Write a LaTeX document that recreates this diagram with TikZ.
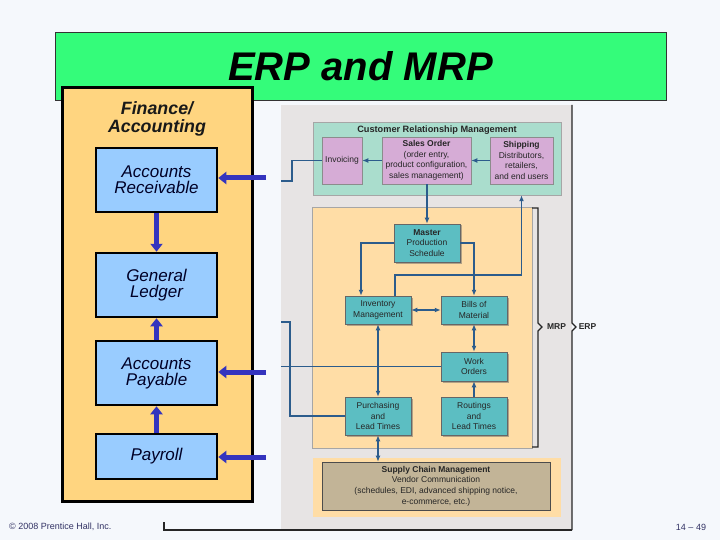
\documentclass[tikz,border=0pt]{standalone}
\usepackage{fontspec}
\setmainfont{Liberation Sans}
\usetikzlibrary{arrows.meta, positioning, calc, shadows}
\definecolor{erpfundo}{RGB}{245,248,252}
\definecolor{erpverde}{RGB}{52,252,122}
\definecolor{erplaranja}{RGB}{255,213,128}
\definecolor{erpazul}{RGB}{153,204,255}
\definecolor{erproxo}{RGB}{52,52,190}
\definecolor{erpcinza}{RGB}{231,228,228}
\definecolor{erpverdeag}{RGB}{170,221,205}
\definecolor{erplilas}{RGB}{214,172,214}
\definecolor{erpareia}{RGB}{255,221,166}
\definecolor{erpteal}{RGB}{92,190,194}
\definecolor{erplinha}{RGB}{44,92,140}
\definecolor{erptan}{RGB}{194,180,151}
\definecolor{erprod}{RGB}{50,50,100}
\tikzset{
  erptit/.style = {draw=black!80, fill=erpverde, line width=0.8pt,
    minimum width=611pt, minimum height=68pt, inner sep=0pt,
    font=\fontsize{40}{44}\selectfont\bfseries\itshape},
  erpfin/.style = {draw=black, fill=erplaranja, line width=3pt,
    minimum width=190pt, minimum height=413pt, inner sep=0pt},
  erpfinrot/.style = {align=center, text=black!90,
    font=\fontsize{17.8}{18}\selectfont\bfseries\itshape},
  erpbox/.style = {draw=black, fill=erpazul, line width=2.5pt,
    minimum width=121pt, minimum height=64pt, inner sep=0pt, align=center,
    text=black!85!blue, font=\fontsize{17}{16}\selectfont\itshape},
  erpseta/.style = {-{Triangle[length=8pt,width=12pt]}, line width=5pt,
    draw=erproxo},
  erpfig/.style = {fill=erpcinza, minimum width=291pt, minimum height=425pt,
    inner sep=0pt},
  erpplano/.style = {inner sep=0pt, draw=black!35, line width=0.5pt},
  erpcrm/.style = {draw=black!45, fill=erplilas, line width=0.5pt,
    minimum height=47pt, inner sep=1pt, align=center,
    drop shadow={shadow xshift=1pt, shadow yshift=-1pt, fill=black!35}},
  erpmod/.style = {draw=black!60, fill=erpteal, line width=0.5pt,
    minimum width=66pt, inner sep=1pt, align=center,
    drop shadow={shadow xshift=1.5pt, shadow yshift=-1.5pt, fill=black!60}},
  erplig/.style = {draw=erplinha, line width=1.6pt},
  erpfl/.style = {erplig, -{Latex[length=6pt,width=5pt]}},
  erpfl2/.style = {erplig, {Latex[length=6pt,width=5pt]}-{Latex[length=6pt,width=5pt]}},
  erprot/.style = {align=center, inner sep=0pt, text=black!85,
    font=\fontsize{8.5}{10.6}\selectfont},
  erpchave/.style = {draw=black!85, line width=1.4pt},
  erprodape/.style = {text=erprod, inner sep=0pt,
    font=\fontsize{9}{10}\selectfont}
}

\begin{document}
\begin{tikzpicture}[x=1pt, y=-1pt, every node/.append style={erprot}]
  \path [use as bounding box, fill=erpfundo] (0,0) rectangle (720,540);
  \node [erptit, text=black, font=\fontsize{40}{44}\selectfont\bfseries\itshape] (tit) at (360.5,66) {ERP and MRP};
  \node [erpfin] (fin) at (157,294.5) {};
  \node [erpfinrot] (fint) at (157,119) {Finance/\\Accounting};
  \node [erpbox] (ar) at (156.5,180) {Accounts\\Receivable};
  \node [erpbox] (gl) at (156.5,285) {General\\Ledger};
  \node [erpbox] (ap) at (156.5,373) {Accounts\\Payable};
  \node [erpbox, minimum height=45pt] (pay) at (156.5,456.5) {Payroll};
  \draw [erpseta] (ar) -- (gl);
  \draw [erpseta] (ap) -- (gl);
  \draw [erpseta] (pay) -- (ap);
  \coordinate (c1) at (266,178);
  \coordinate (c2) at (266,372);
  \coordinate (c3) at (266,457);
  \foreach \c/\n in {c1/ar, c2/ap, c3/pay} \draw [erpseta] (\c) -- (\c -| \n.east);

  \node [erpfig] (fig) at (426.5,317.5) {};
  \node [erpplano, fill=erpverdeag, minimum width=248pt, minimum height=73pt] (crm) at (437,158.5) {};
  \node [font=\fontsize{9.2}{11}\selectfont\bfseries] (crmt) at (437,130) {Customer Relationship Management};
  \node [erpcrm, minimum width=40pt] (inv) at (342,160.5) {Invoicing};
  \node [erpcrm, minimum width=89pt] (so) at (426.5,160.5) {\textbf{Sales Order}\\(order entry,\\product configuration,\\sales management)};
  \node [erpcrm, minimum width=63pt] (ship) at (521.5,160.5) {\textbf{Shipping}\\Distributors,\\retailers,\\and end users};
  \draw [erpfl] (ship) -- (so);
  \draw [erpfl] (so) -- (inv);

  \node [erpplano, fill=erpareia, minimum width=220pt, minimum height=241pt] (mrp) at (422,327.5) {};
  \node [erpmod, minimum height=38pt] (mps) at (427,243) {\textbf{Master}\\Production\\Schedule};
  \node [erpmod, minimum height=28pt] (im) at (378,310) {Inventory\\Management};
  \node [erpmod, minimum height=28pt] (bom) at (474,310) {Bills of\\Material};
  \node [erpmod, minimum height=29pt] (wo) at (474,366.5) {Work\\Orders};
  \node [erpmod, minimum height=38pt] (pur) at (378,416) {Purchasing\\and\\Lead Times};
  \node [erpmod, minimum height=38pt] (rout) at (474,416) {Routings\\and\\Lead Times};

  \node [erpplano, draw=none, fill=erpareia, minimum width=248pt, minimum height=59pt] (scmp) at (437,487.5) {};
  \node [draw=black!70, fill=erptan, line width=0.6pt, minimum width=228pt, minimum height=48pt] (scm) at (436,486) {\textbf{Supply Chain Management}\\Vendor Communication\\(schedules, EDI, advanced shipping notice,\\e-commerce, etc.)};

  \draw [erpfl] (so.south -| mps.north) -- (mps.north);
  \draw [erpfl] (mps.west) -| ([xshift=-17pt]im.north);
  \draw [erpfl] (mps.east) -| (bom.north);
  \coordinate (k1) at (521.5,275);
  \draw [erpfl] ([xshift=17pt]im.north) |- (k1) -- (crm.south -| k1);
  \draw [erpfl2] (im) -- (bom);
  \draw [erpfl2] (im) -- (pur);
  \draw [erpfl2] (bom) -- (wo);
  \draw [erpfl] (rout) -- (wo);
  \draw [erplig] (wo.west) -- (wo.west -| fig.west);
  \coordinate (k2) at (290,322);
  \draw [erplig] (pur.west) -| (k2) -- (k2 -| fig.west);
  \coordinate (k3) at (292,181);
  \draw [erplig] (inv.west) -| (k3) -- (k3 -| fig.west);
  \draw [erpfl2] (pur.south) -- (scm.north -| pur.south);

  \draw [erpchave] (532,208) -- (538,208) -- (538,323) -- (542,327) -- (538,331) -- (538,447) -- (532,447);
  \node [font=\fontsize{8.5}{10}\selectfont\bfseries] (mrpt) at (556.5,327) {MRP};
  \draw [erpchave] (572,105) -- (572,323) -- (576,327) -- (572,331) -- (572,530);
  \draw [erpchave, line width=2pt] (572,530) -- (164,530) -- (164,522);
  \node [font=\fontsize{8.5}{10}\selectfont\bfseries] (erpt) at (587.5,327) {ERP};

  \node [erprodape, anchor=west] (copy) at (9,527) {© 2008 Prentice Hall, Inc.};
  \node [erprodape] (pag) at (691,527) {14 – 49};
\end{tikzpicture}
\end{document}
